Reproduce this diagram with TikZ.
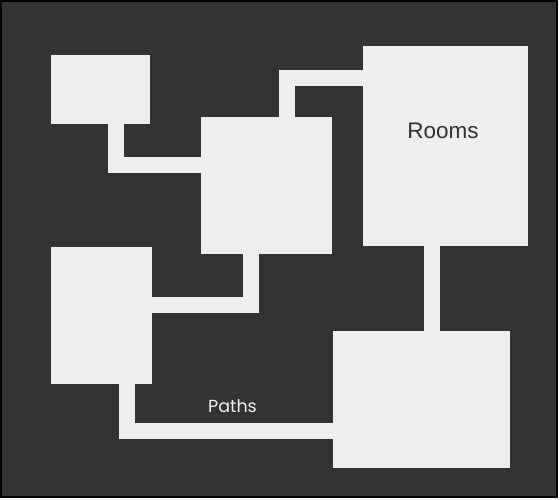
\documentclass[tikz,border=0pt]{standalone}
\usepackage{fontspec}
\setmainfont{Liberation Sans}
\newfontfamily\wegfont{Poppins}
\definecolor{grund}{HTML}{333333}
\definecolor{raum}{HTML}{EEEEEE}
\tikzset{
    raumbox/.style={fill=raum, inner sep=0pt, anchor=center},
    weg/.style={draw=raum, line width=16pt, line cap=butt, line join=miter}
}
\begin{document}
\begin{tikzpicture}[x=1pt, y=-1pt]
            % Rahmen
            \useasboundingbox (0,0) rectangle (560,500);
            \fill [white] (0,0) rectangle (560,500);
            \draw [black, line width=1.5pt, fill=grund] (1,1) rectangle (557,497);
            % Räume
            \node [raumbox, minimum width=99pt,  minimum height=69pt]  (A) at (100.5, 89.5) {};
            \node [raumbox, minimum width=131pt, minimum height=137pt] (B) at (266.5,185.5) {};
            \node [raumbox, minimum width=165pt, minimum height=200pt] (C) at (445.5,146)   {};
            \node [raumbox, minimum width=101pt, minimum height=137pt] (D) at (101.5,315.5) {};
            \node [raumbox, minimum width=177pt, minimum height=137pt] (E) at (421.5,399.5) {};
            % Wege
            \draw [weg] ([xshift=15.5pt]A.south) |- ([yshift=20pt]B.west);
            \draw [weg] ([xshift=20.5pt]B.north) |- ([yshift=67.5pt]C.west);
            \draw [weg] ([xshift=-13.5pt]C.south) -- ([xshift=10.5pt]E.north);
            \draw [weg] ([yshift=10.5pt]D.east) -| ([xshift=-15.5pt]B.south);
            \draw [weg] ([xshift=25.5pt]D.south) |- ([yshift=-31.5pt]E.west);
            % Beschriftung
            \node [text=grund, font=\fontsize{22.5}{26}\selectfont] (rooms) at (443,131) {Rooms};
            \node [text=raum, font=\wegfont\fontsize{17.5}{20}\selectfont] (paths) at (232.5,406) {Paths};
        \end{tikzpicture}
\end{document}
